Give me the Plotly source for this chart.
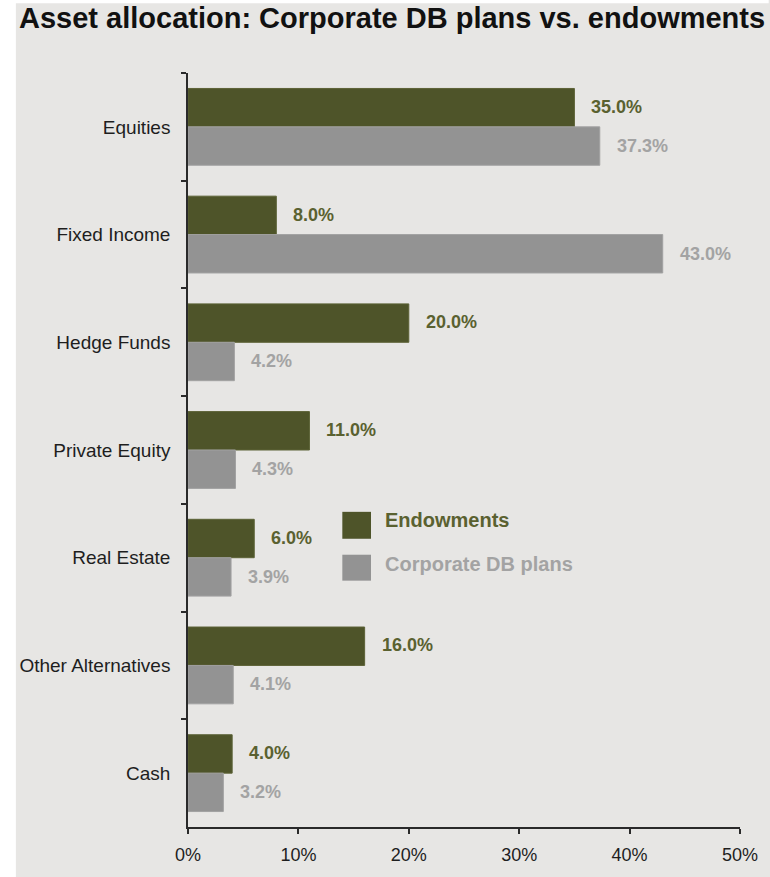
import plotly.graph_objects as go

# Asset classes, top to bottom
categories = ["Equities", "Fixed Income", "Hedge Funds", "Private Equity",
              "Real Estate", "Other Alternatives", "Cash"]

# Allocation shares (%)
endowments = [35.0, 8.0, 20.0, 11.0, 6.0, 16.0, 4.0]
corporate_db = [37.3, 43.0, 4.2, 4.3, 3.9, 4.1, 3.2]

series_names = ["Endowments", "Corporate DB plans"]
x_ticks = [0, 10, 20, 30, 40, 50]
x_tick_labels = ["0%", "10%", "20%", "30%", "40%", "50%"]

OLIVE = "#4e5429"
OLIVE_TEXT = "#5a6130"
GREY = "#939393"
GREY_TEXT = "#a3a3a3"
BG = "#e7e6e4"
FONT = "Liberation Sans, Arial, sans-serif"

W, H = 770, 877
L, R, T, B = 188, 24, 73, 48
plot_w = W - L - R
plot_h = H - T - B

fig = go.Figure()
fig.add_trace(go.Bar(
    y=categories, x=endowments, name=series_names[0], orientation="h",
    marker=dict(color=OLIVE, line=dict(color="#5c6236", width=1)),
    showlegend=False,
))
fig.add_trace(go.Bar(
    y=categories, x=corporate_db, name=series_names[1], orientation="h",
    marker=dict(color=GREY, line=dict(color="#a2a2a2", width=1)),
    showlegend=False,
))

# Value labels just past the end of each bar
annotations = []
for i, (e, c) in enumerate(zip(endowments, corporate_db)):
    annotations.append(dict(
        x=e, y=i, xref="x", yref="y", text=f"{e:.1f}%", showarrow=False,
        xanchor="left", yanchor="middle", xshift=15, yshift=20,
        font=dict(family=FONT, size=18, color=OLIVE_TEXT, weight="bold"),
    ))
    annotations.append(dict(
        x=c, y=i, xref="x", yref="y", text=f"{c:.1f}%", showarrow=False,
        xanchor="left", yanchor="middle", xshift=15, yshift=-19,
        font=dict(family=FONT, size=18, color=GREY_TEXT, weight="bold"),
    ))


def px_x(p):
    return (p - L) / plot_w


def px_y(q):
    return (H - B - q) / plot_h


# Legend drawn in the middle of the plot
legend_items = [
    (series_names[0], OLIVE, OLIVE_TEXT, 513, 540, 521),
    (series_names[1], GREY, GREY_TEXT, 556, 582, 565),
]
shapes = []
for name, fill, txt, top, bot, mid in legend_items:
    shapes.append(dict(
        type="rect", xref="paper", yref="paper",
        x0=px_x(344), x1=px_x(373), y0=px_y(bot), y1=px_y(top),
        fillcolor=fill, line=dict(width=0),
    ))
    annotations.append(dict(
        x=px_x(385), y=px_y(mid), xref="paper", yref="paper", text=name,
        showarrow=False, xanchor="left", yanchor="middle",
        font=dict(family=FONT, size=20, color=txt, weight="bold"),
    ))

# White margin strips along the left and top edges
shapes.append(dict(type="rect", xref="paper", yref="paper",
                   x0=px_x(-5), x1=px_x(14), y0=px_y(H + 5), y1=px_y(-5),
                   fillcolor="white", line=dict(width=0), layer="below"))
shapes.append(dict(type="rect", xref="paper", yref="paper",
                   x0=px_x(-5), x1=px_x(W + 5), y0=px_y(3), y1=px_y(-5),
                   fillcolor="white", line=dict(width=0), layer="below"))

# Title
annotations.append(dict(
    x=px_x(15), y=px_y(18), xref="paper", yref="paper",
    text="Asset allocation: Corporate DB plans vs. endowments",
    showarrow=False, xanchor="left", yanchor="middle",
    font=dict(family=FONT, size=29, color="#111111", weight="bold"),
))

fig.update_layout(
    width=W, height=H,
    margin=dict(l=L, r=R, t=T, b=B, pad=0),
    paper_bgcolor=BG, plot_bgcolor=BG,
    barmode="group", bargap=0.287, bargroupgap=0.0,
    font=dict(family=FONT, color="#222222"),
    annotations=annotations, shapes=shapes,
    showlegend=False,
)
fig.update_xaxes(
    range=[0, 50], tickvals=x_ticks, ticktext=x_tick_labels,
    showgrid=False, zeroline=False,
    showline=True, linecolor="#2a2a2a", linewidth=1.5,
    ticks="outside", ticklen=5, tickcolor="#2a2a2a", tickwidth=1.5,
    tickfont=dict(family=FONT, size=18, color="#1e1e1e"),
    ticklabelstandoff=6,
)
fig.update_yaxes(
    autorange="reversed", categoryorder="array", categoryarray=categories,
    showgrid=False, zeroline=False,
    showline=True, linecolor="#2a2a2a", linewidth=1.5,
    ticks="outside", ticklen=5, tickcolor="#2a2a2a", tickwidth=1.5,
    tickson="boundaries",
    tickfont=dict(family=FONT, size=19, color="#1e1e1e"),
    ticklabelstandoff=12,
)

fig.write_html("out.html")
